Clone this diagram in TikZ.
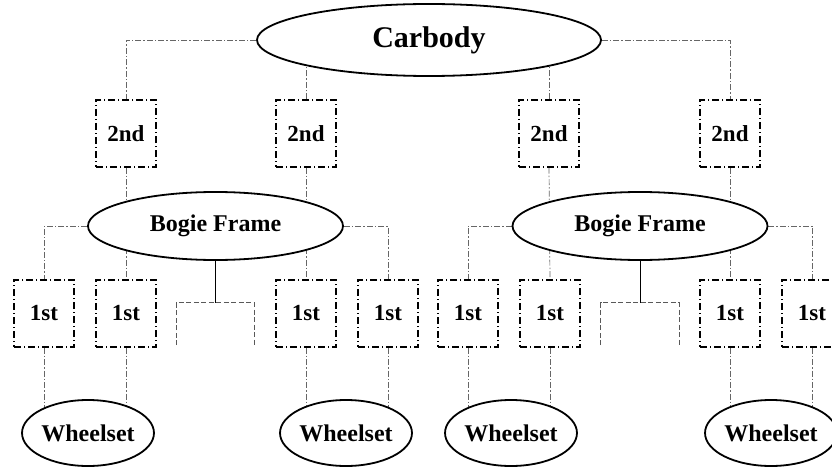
\documentclass[tikz,border=0pt]{standalone}
\usepackage{fontspec}
\setmainfont{Liberation Serif}
\usetikzlibrary{shapes.geometric,backgrounds}
\begin{document}
\begin{tikzpicture}[x=1pt,y=-1pt,
 oval/.style={ellipse,draw,line width=1.8pt,fill=white,inner sep=0pt},
 sbox/.style={rectangle,draw,line width=1.3pt,dash pattern=on 7pt off 3pt on 1pt off 3pt,minimum width=60pt,minimum height=67pt,inner sep=0pt,font=\fontsize{23}{25}\bfseries\selectfont},
 wheel/.style={oval,minimum width=108pt,minimum height=66pt,font=\fontsize{24}{26}\bfseries\selectfont},
 bogie/.style={oval,minimum width=255pt,minimum height=68pt,font=\fontsize{24}{26}\bfseries\selectfont},
 hollow/.style={rectangle,inner sep=0pt,minimum width=78pt,minimum height=42pt},
 link/.style={draw=black!60,line width=0.7pt,dash pattern=on 6pt off 2pt on 1.5pt off 2pt},
 openside/.style={draw=black!65,line width=0.8pt,dash pattern=on 5pt off 2.5pt}]
\useasboundingbox (0,0) rectangle (832,468);
\clip (0,0) rectangle (832,468);
\node[oval,minimum width=344pt,minimum height=72pt,font=\fontsize{30}{32}\bfseries\selectfont] (car) at (429,40) {Carbody};
\node[sbox] (s1) at (126,133.5) {2nd};
\node[sbox] (s2) at (306,133.5) {2nd};
\node[sbox] (s3) at (549,133.5) {2nd};
\node[sbox] (s4) at (730,133.5) {2nd};
\node[bogie] (bf1) at (215.5,226) {Bogie Frame};
\node[bogie] (bf2) at (640,226) {Bogie Frame};
\node[sbox] (p1) at (44,313.5) {1st};
\node[sbox] (p2) at (126,313.5) {1st};
\node[sbox] (p3) at (306,313.5) {1st};
\node[sbox] (p4) at (388,313.5) {1st};
\node[sbox] (p5) at (468,313.5) {1st};
\node[sbox] (p6) at (550,313.5) {1st};
\node[sbox] (p7) at (730,313.5) {1st};
\node[sbox] (p8) at (812,313.5) {1st};
\node[hollow] (e1) at (215.5,324) {};
\node[hollow] (e2) at (640,324) {};
\node[wheel] (w1) at (88,433) {Wheelset};
\node[wheel] (w2) at (346,433) {Wheelset};
\node[wheel] (w3) at (511,433) {Wheelset};
\node[wheel] (w4) at (771,433) {Wheelset};
\begin{scope}[on background layer]
 \draw[link] (car.west) -| (s1.north);
 \draw[link] (car.east) -| (s4.north);
 \draw[link] (s2.north) -- (s2.north |- car.center);
 \draw[link] (s3.north) -- (s3.north |- car.center);
 \draw[link] (s1.south) -- (p2.north);
 \draw[link] (s2.south) -- (p3.north);
 \draw[link] (s3.south) -- (p6.north);
 \draw[link] (s4.south) -- (p7.north);
 \draw[link] (bf1.west) -| (p1.north);
 \draw[link] (bf1.east) -| (p4.north);
 \draw[link] (bf2.west) -| (p5.north);
 \draw[link] (bf2.east) -| (p8.north);
 \foreach \p/\w in {p1/w1,p2/w1,p3/w2,p4/w2,p5/w3,p6/w3,p7/w4,p8/w4}
   \draw[link] (\p.south) -- (\p.south |- \w.center);
\end{scope}
\draw[line width=0.9pt] (bf1.south) -- (e1.north);
\draw[line width=0.9pt] (bf2.south) -- (e2.north);
\draw[openside] (e1.south west) -- (e1.north west) -- (e1.north east) -- (e1.south east);
\draw[openside] (e2.south west) -- (e2.north west) -- (e2.north east) -- (e2.south east);
\end{tikzpicture}
\end{document}
